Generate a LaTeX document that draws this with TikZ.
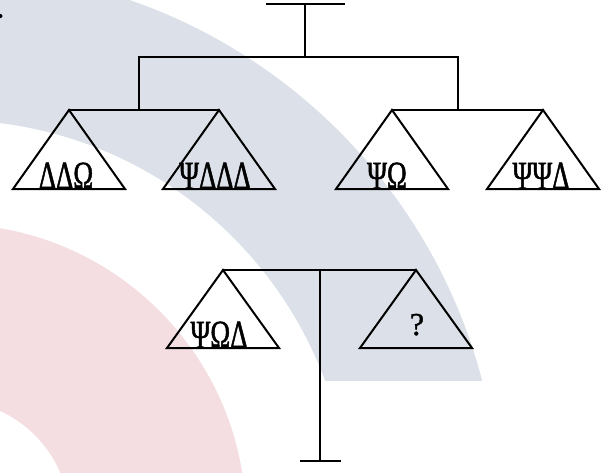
\documentclass[tikz,border=0pt]{standalone}
\usepackage{fontspec}
\setmainfont{Liberation Serif}
\newfontfamily\gk[FakeStretch=0.67,FakeBold=1.2]{Liberation Serif}
\newfontfamily\qm[FakeBold=1.2]{Liberation Serif}
\definecolor{bandgray}{RGB}{220,225,233}
\definecolor{bandpink}{RGB}{245,222,226}
\tikzset{
  ln/.style={line width=2pt, line cap=rect},
  tri/.style={ln, line join=miter},
  lbl/.style={anchor=base, inner sep=0pt, font=\gk\fontsize{40}{40}\selectfont},
}
\begin{document}
\begin{tikzpicture}[x=1pt,y=-1pt]
\useasboundingbox (0,0) rectangle (605,472);
% background bands
\begin{scope}
  \clip (0,0) rectangle (605,380);
  \fill[bandgray, even odd rule] (-50,520) circle[radius=550pt] (-50,520) circle[radius=400pt];
\end{scope}
\begin{scope}
  \clip (0,0) rectangle (605,472);
  \fill[bandpink, even odd rule] (-50,520) circle[radius=296pt] (-50,520) circle[radius=120pt];
\end{scope}
\fill (0.5,16) circle[radius=2pt];
% upper tree
\coordinate (tl) at (267,4);
\coordinate (tr) at (344,4);
\coordinate (tm) at (305,4);
\coordinate (jm) at (305,57);
\coordinate (jl) at (139,57);
\coordinate (jr) at (458,57);
\coordinate (ml) at (139,110);
\coordinate (mr) at (458,110);
\coordinate (a1) at (69,110);
\coordinate (a2) at (219,110);
\coordinate (a3) at (392,110);
\coordinate (a4) at (543,110);
\draw[ln] (tl) -- (tr);
\draw[ln] (tm) -- (jm);
\draw[ln] (ml) -- (jl) -- (jr) -- (mr);
\draw[ln] (a1) -- (a2);
\draw[ln] (a3) -- (a4);
\foreach \a in {a1,a2,a3,a4}{
  \draw[tri] (\a) -- ++(-56,79) -- ++(112,0) -- cycle;
}
\node[lbl] (l1) at (66,189) {ΔΔΩ};
\node[lbl] (l2) at (215,189) {ΨΔΔΔ};
\node[lbl] (l3) at (387,189) {ΨΩ};
\node[lbl] (l4) at (541,189) {ΨΨΔ};
% lower balance
\coordinate (b1) at (223,270);
\coordinate (b2) at (416,270);
\coordinate (bm) at (320,270);
\coordinate (bb) at (320,461);
\coordinate (bl) at (301,461);
\coordinate (br) at (340,461);
\draw[ln] (b1) -- (b2);
\draw[ln] (bm) -- (bb);
\draw[ln] (bl) -- (br);
\foreach \a in {b1,b2}{
  \draw[tri] (\a) -- ++(-56,78) -- ++(112,0) -- cycle;
}
\node[lbl] (l5) at (219,348) {ΨΩΔ};
\node[lbl, font=\qm\fontsize{32}{32}\selectfont] (l6) at (417,335) {?};
\end{tikzpicture}
\end{document}
